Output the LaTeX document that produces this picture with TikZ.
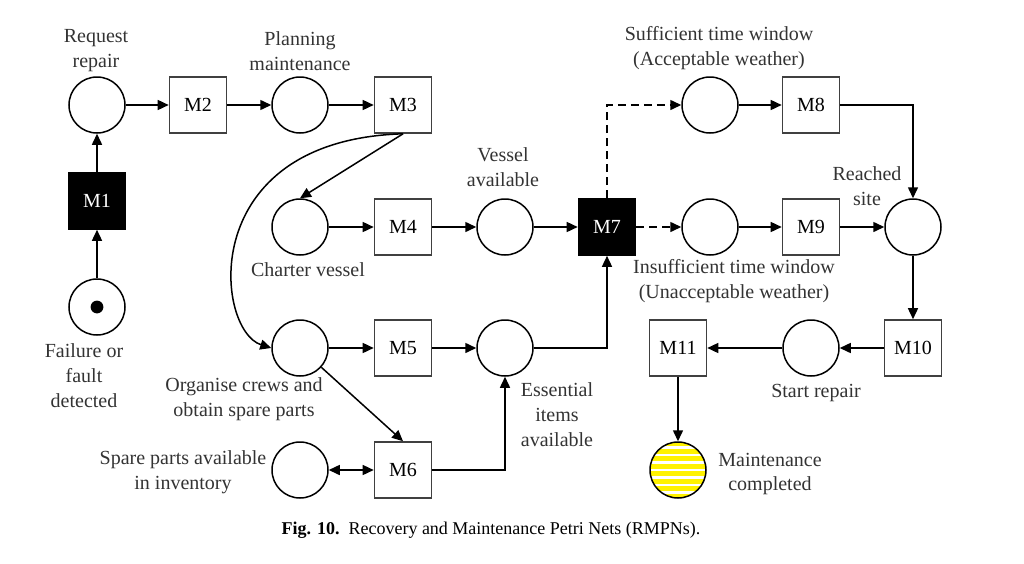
\documentclass[tikz,border=0pt]{standalone}
\usepackage{fontspec}
\setmainfont{Liberation Serif}
\usetikzlibrary{arrows.meta}

\begin{document}
\begin{tikzpicture}[x=0.5pt,y=-0.5pt, % Pixelraster, y nach unten
    font=\fontsize{10}{12.5}\selectfont,
    place/.style={draw,circle,line width=0.75pt,minimum size=28pt,inner sep=0pt},
    trans/.style={draw=black!75,line width=0.8pt,minimum width=28.5pt,minimum height=28pt,inner sep=0pt},
    blacktrans/.style={trans,draw=black,fill=black,text=white},
    donestripes/.style={path picture={
        \foreach \k in {-4,...,4}
            \draw[white,line width=1.1pt] ([yshift=\k*3.75pt]path picture bounding box.west) -- ([yshift=\k*3.75pt]path picture bounding box.east);
    }},
    lbl/.style={align=center,text=black!80,inner sep=0pt},
    arc/.style={-{Triangle[length=5.5pt,width=5pt]},line width=0.75pt},
    dblarc/.style={{Triangle[length=5.5pt,width=5pt]}-{Triangle[length=5.5pt,width=5pt]},line width=0.75pt},
    dasharc/.style={arc,dash pattern=on 4pt off 2.5pt}]

    \useasboundingbox (0,0) rectangle (1024,563);

    % Stellen
    \node[place] (pReq) at (97,105) {};
    \node[place] (pPlan) at (300,105) {};
    \node[place] (pFail) at (97,307) {};
    \node[place] (pCharter) at (300,227) {};
    \node[place] (pVessel) at (505,227) {};
    \node[place] (pOrg) at (300,348) {};
    \node[place] (pEss) at (505,348) {};
    \node[place] (pSpare) at (300,470) {};
    \node[place] (pSuff) at (710,105) {};
    \node[place] (pInsuff) at (710,227) {};
    \node[place] (pSite) at (913,227) {};
    \node[place] (pStart) at (811,348) {};
    \node[place,fill=yellow,donestripes] (pDone) at (678,470) {};
    \fill (pFail.center) circle (3.2pt); % Marke

    % Transitionen
    \foreach \n/\x/\y in {M2/198/105, M3/403/105, M4/403/227, M5/403/348, M6/403/470,
                          M8/811/105, M9/811/227, M10/913/348, M11/678/348} {
        \node[trans] (\n) at (\x,\y) {\n};
    }
    \foreach \n/\x/\y in {M1/97/201, M7/607/227} {
        \node[blacktrans] (\n) at (\x,\y) {\n};
    }

    % Beschriftungen
    \node[lbl] (lReq) at (96,51) {Request\\repair};
    \node[lbl] (lPlan) at (300,51) {Planning\\maintenance};
    \node[lbl] (lFail) at (84,376) {Failure or\\fault\\detected};
    \node[lbl] (lCharter) at (308,270) {Charter vessel};
    \node[lbl] (lVessel) at (503,167) {Vessel\\available};
    \node[lbl] (lOrg) at (244,399) {Organise crews and\\obtain spare parts};
    \node[lbl] (lSpare) at (183,472) {Spare parts available\\in inventory};
    \node[lbl] (lEss) at (557,415) {Essential\\items\\available};
    \node[lbl] (lSuff) at (719,48) {Sufficient time window\\(Acceptable weather)};
    \node[lbl] (lSite) at (867,186) {Reached\\site};
    \node[lbl] (lInsuff) at (734,281) {Insufficient time window\\(Unacceptable weather)};
    \node[lbl] (lStart) at (816,393) {Start repair};
    \node[lbl] (lDone) at (770,474) {Maintenance\\completed};
    \node[font=\fontsize{9}{11}\selectfont] (caption) at (491,530) {\textbf{Fig. 10.}\enspace Recovery and Maintenance Petri Nets (RMPNs).};

    % Kanten
    \draw[arc] (pFail) -- (M1);
    \draw[arc] (M1) -- (pReq);
    \draw[arc] (pReq) -- (M2);
    \draw[arc] (M2) -- (pPlan);
    \draw[arc] (pPlan) -- (M3);
    \draw[arc] (M3.south) -- (pCharter.north);
    \draw[arc] (M3.south) .. controls (195,140) and (215,330) .. (pOrg.west);
    \draw[arc] (pCharter) -- (M4);
    \draw[arc] (M4) -- (pVessel);
    \draw[arc] (pVessel) -- (M7);
    \draw[arc] (pOrg) -- (M5);
    \draw[arc] (M5) -- (pEss);
    \draw[arc] (pOrg) -- (M6.north);
    \draw[dblarc] (pSpare) -- (M6);
    \draw[arc] (M6.east) -| (pEss.south);
    \draw[arc] (pEss.east) -| (M7.south);
    \draw[dasharc] (M7.north) |- (pSuff.west);
    \draw[dasharc] (M7) -- (pInsuff);
    \draw[arc] (pSuff) -- (M8);
    \draw[arc] (pInsuff) -- (M9);
    \draw[arc] (M8.east) -| (pSite.north);
    \draw[arc] (M9) -- (pSite);
    \draw[arc] (pSite) -- (M10);
    \draw[arc] (M10) -- (pStart);
    \draw[arc] (pStart) -- (M11);
    \draw[arc] (M11) -- (pDone);
\end{tikzpicture}
\end{document}
